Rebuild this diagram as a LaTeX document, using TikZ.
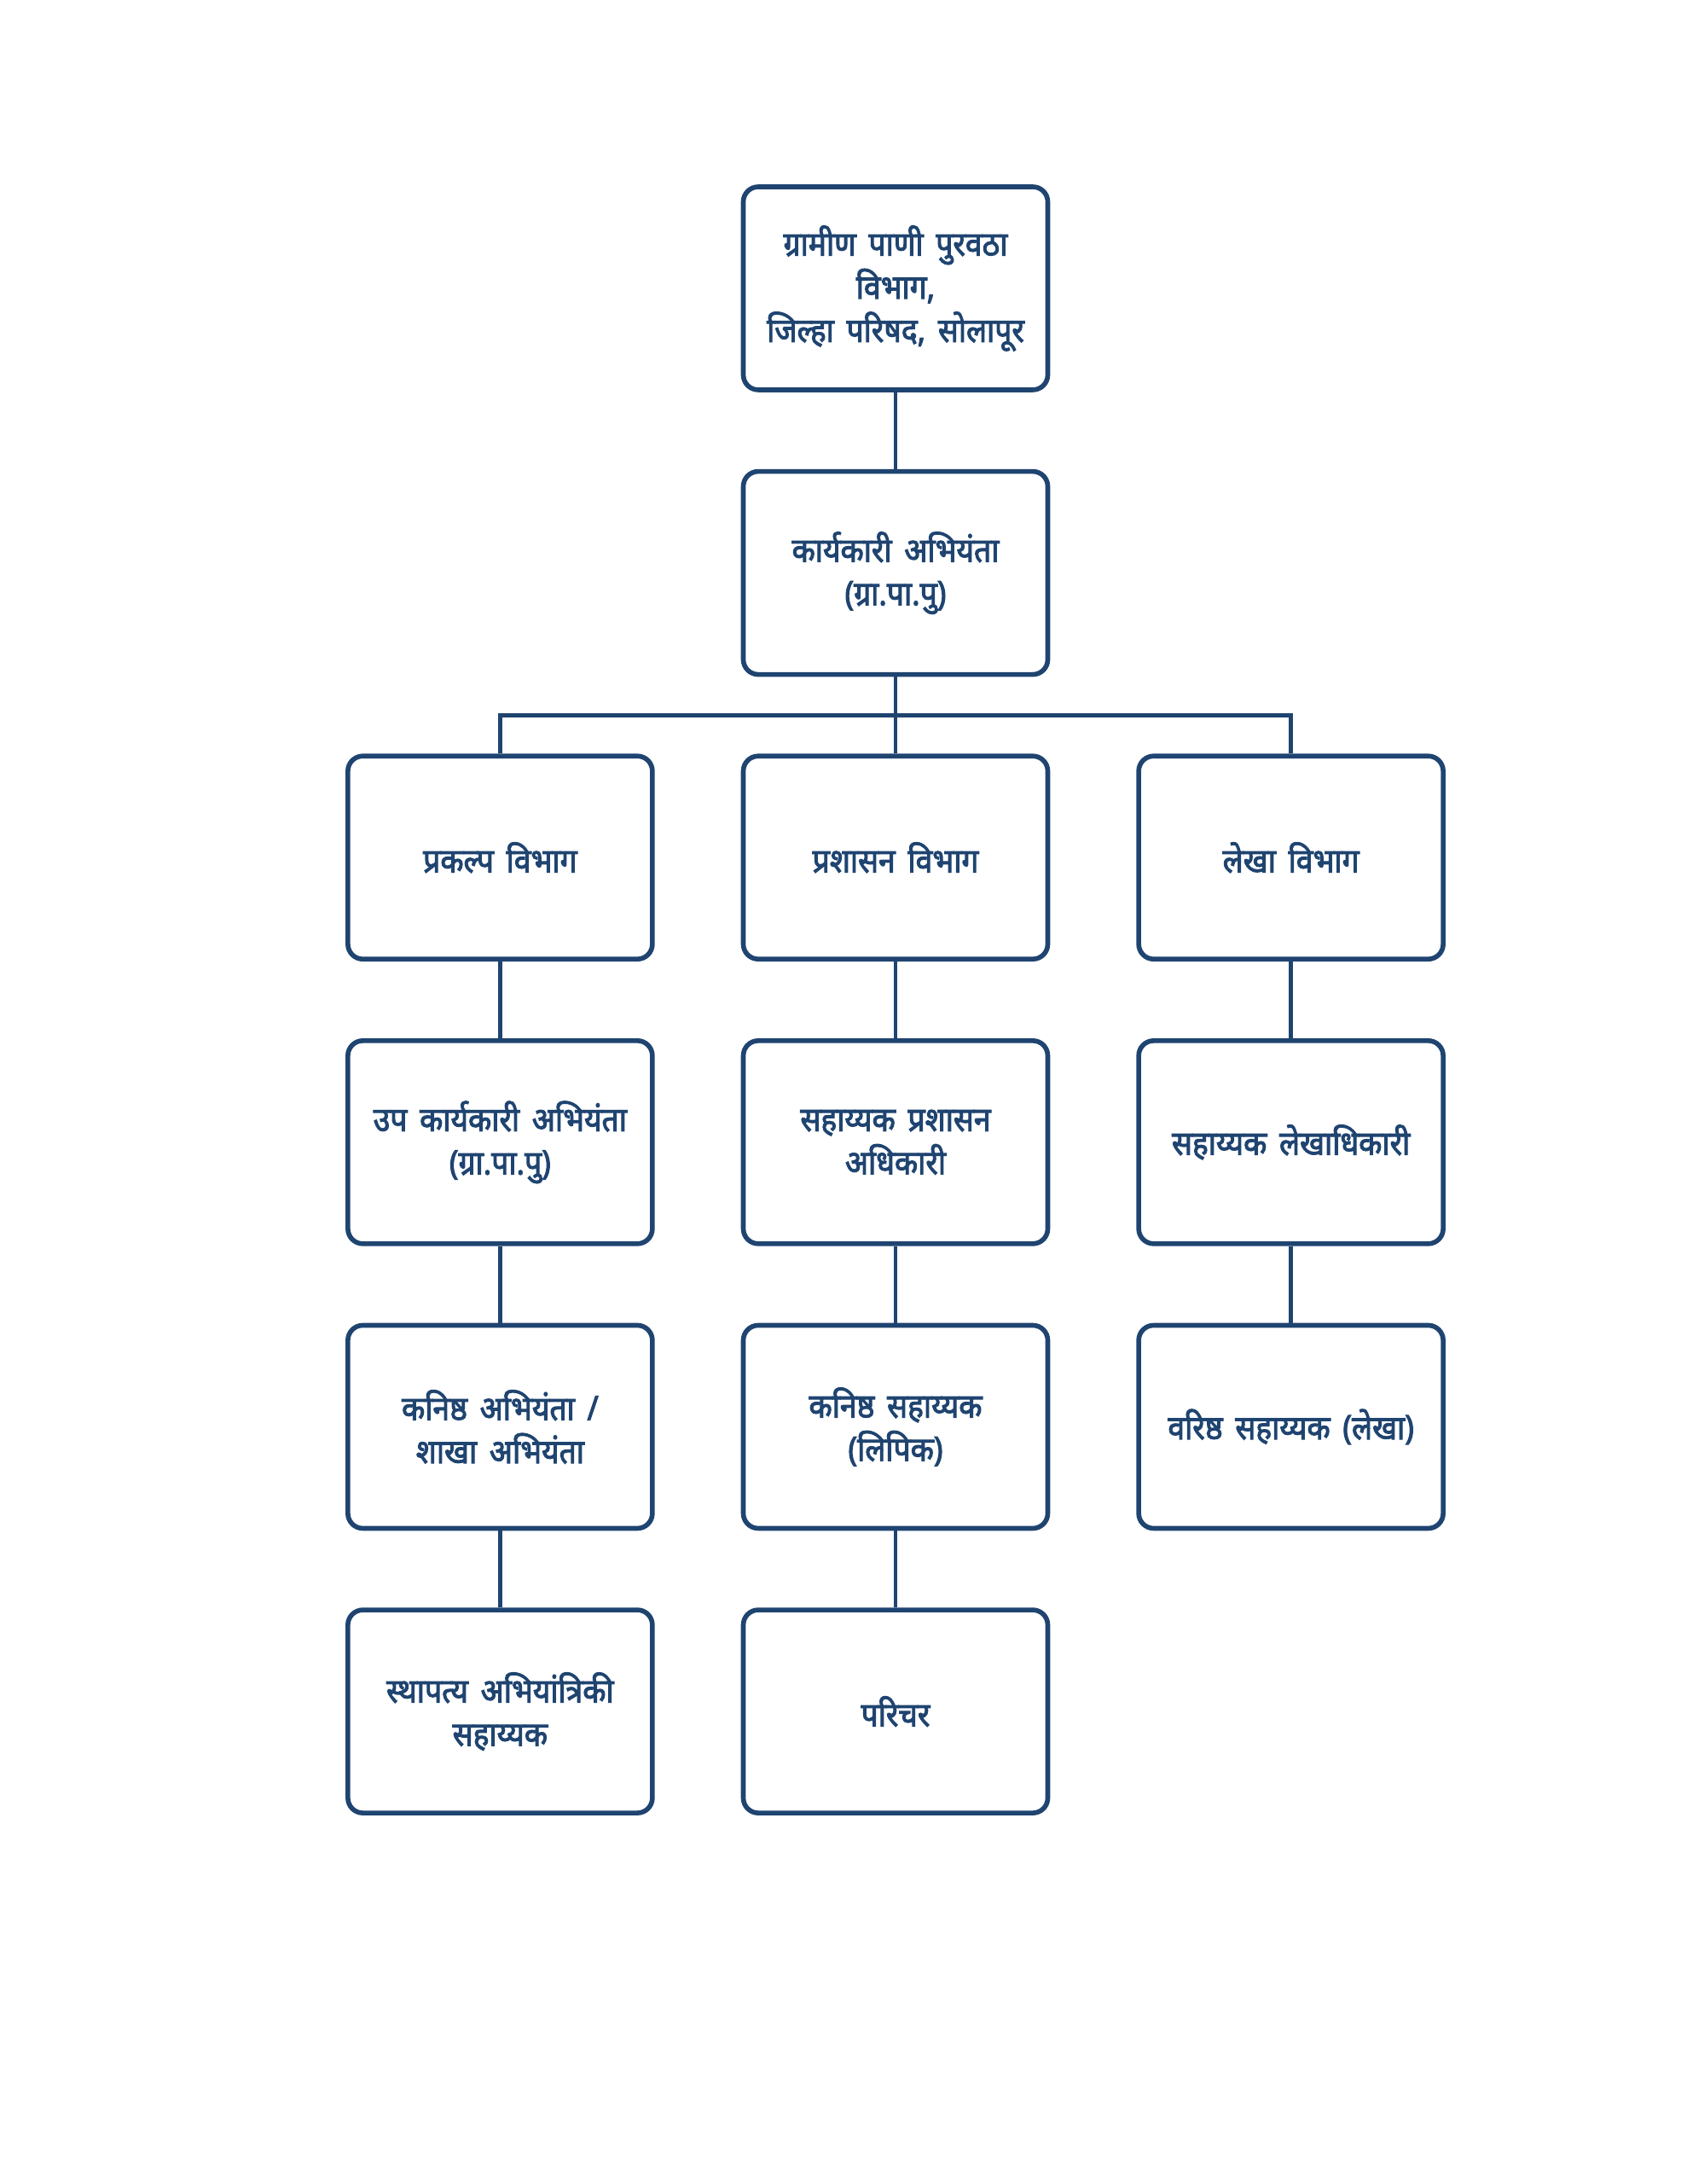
\documentclass[tikz,border=0pt]{standalone}
\usepackage{fontspec}
\newfontfamily\mrfont[Script=Devanagari, FakeBold=2.6, FakeStretch=0.9, WordSpace=1.6]{Noto Sans}
\usetikzlibrary{positioning,calc}
\definecolor{orgblue}{RGB}{31,68,112}

\begin{document}
\begin{tikzpicture}[node distance=0.9cm and 1.01cm,
  post/.style={rectangle, draw=orgblue, line width=1.6pt, rounded corners=5pt,
               minimum width=3.57cm, minimum height=2.38cm, align=center,
               text=orgblue, font=\mrfont\fontsize{11.2}{14.4}\selectfont},
  link/.style={draw=orgblue, line width=1.4pt}]
  \useasboundingbox (0,0) rectangle (19.78,25.6);

  % Head office
  \node[post] (zp) at (10.50,22.22)
    {ग्रामीण पाणी पुरवठा\\विभाग,\\जिल्हा परिषद, सोलापूर};
  \node[post, below=of zp] (ee) {कार्यकारी अभियंता\\(ग्रा.पा.पु)};

  % Divisions
  \node[post, below=of ee] (admin) {प्रशासन विभाग};
  \node[post, left=of admin] (proj) {प्रकल्प विभाग};
  \node[post, right=of admin] (acct) {लेखा विभाग};

  % Project column
  \node[post, below=of proj] (dee) {उप कार्यकारी अभियंता\\(ग्रा.पा.पु)};
  \node[post, below=of dee] (je) {कनिष्ठ अभियंता /\\शाखा अभियंता};
  \node[post, below=of je] (cea) {स्थापत्य अभियांत्रिकी\\सहाय्यक};

  % Administration column
  \node[post, below=of admin] (aao) {सहाय्यक प्रशासन\\अधिकारी};
  \node[post, below=of aao] (jc) {कनिष्ठ सहाय्यक\\(लिपिक)};
  \node[post, below=of jc] (att) {परिचर};

  % Accounts column
  \node[post, below=of acct] (aaf) {सहाय्यक लेखाधिकारी};
  \node[post, below=of aaf] (sa) {वरिष्ठ सहाय्यक (लेखा)};

  % Connectors
  \coordinate (bus) at ($(ee.south)!0.5!(admin.north)$);
  \draw[link] (zp) -- (ee);
  \draw[link] (ee) -- (admin);
  \draw[link] (proj.north) |- (bus) -| (acct.north);
  \draw[link] (proj) -- (dee);
  \draw[link] (dee) -- (je);
  \draw[link] (je) -- (cea);
  \draw[link] (admin) -- (aao);
  \draw[link] (aao) -- (jc);
  \draw[link] (jc) -- (att);
  \draw[link] (acct) -- (aaf);
  \draw[link] (aaf) -- (sa);
\end{tikzpicture}
\end{document}
